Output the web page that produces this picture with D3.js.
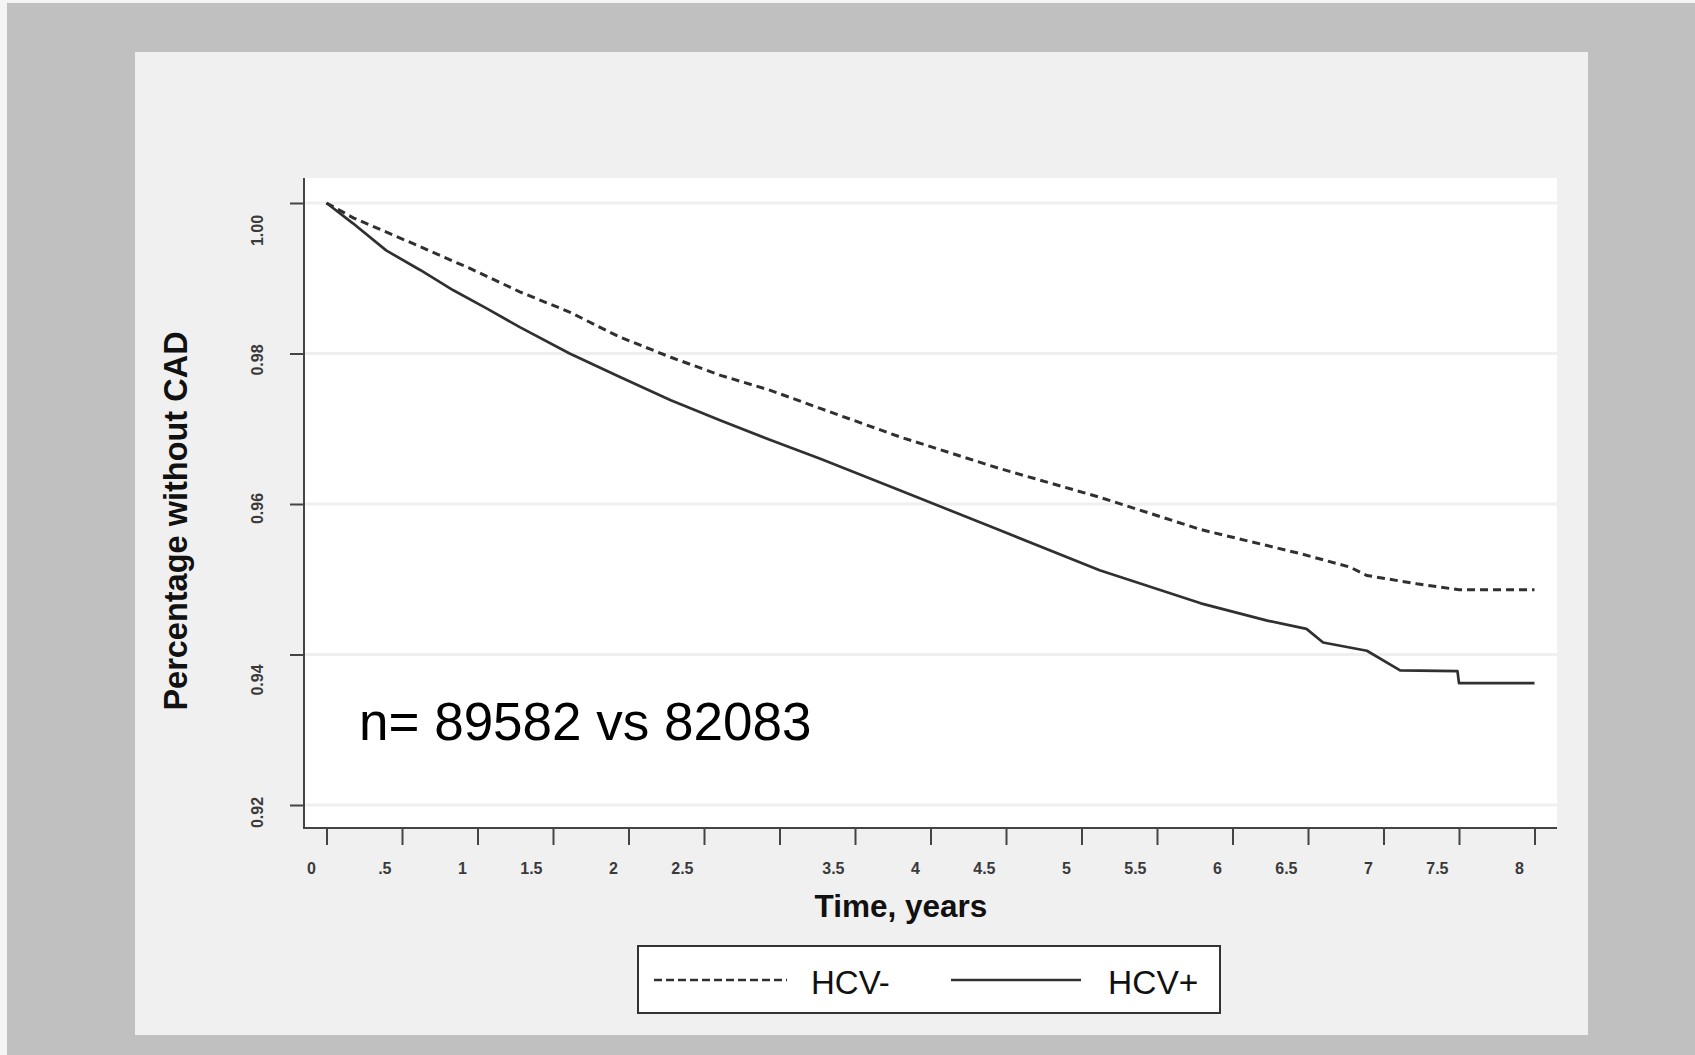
<!DOCTYPE html>
<html>
<head>
<meta charset="utf-8">
<script src="https://cdn.jsdelivr.net/npm/d3@7"></script>
<style>
  html, body { margin: 0; padding: 0; background: #c0c0c0; }
  svg { display: block; }
  text { font-family: "Liberation Sans", Arial, Helvetica, sans-serif; }
</style>
</head>
<body>
<svg id="chart" width="1695" height="1055"></svg>
<script>
// ---- Data ----
const timesNeg = [0, 0.18, 0.62, 0.95, 1.28, 1.61, 1.94, 2.28, 2.61, 2.94, 3.27, 3.80, 4.46, 5.12, 5.79, 6.45, 6.78, 6.89, 7.22, 7.50, 8.00];
const survNeg  = [1.000, 0.9980, 0.9942, 0.9913, 0.9882, 0.9855, 0.9822, 0.9795, 0.9771, 0.9751, 0.9727, 0.9689, 0.9647, 0.9609, 0.9566, 0.9534, 0.9516, 0.9505, 0.9494, 0.9486, 0.9486];

const timesPos = [0, 0.175, 0.395, 0.62, 0.84, 1.06, 1.28, 1.61, 1.94, 2.28, 2.61, 2.94, 3.27, 3.80, 4.46, 5.12, 5.79, 6.23, 6.49, 6.60, 6.89, 7.11, 7.49, 7.50, 8.00];
const survPos  = [1.000, 0.9973, 0.9937, 0.9911, 0.9884, 0.9860, 0.9835, 0.9800, 0.9769, 0.9738, 0.9711, 0.9685, 0.9660, 0.9618, 0.9565, 0.9512, 0.9468, 0.9445, 0.9434, 0.9416, 0.9405, 0.9379, 0.9378, 0.9362, 0.9362];

const xTicks      = [0, 0.5, 1, 1.5, 2, 2.5, 3, 3.5, 4, 4.5, 5, 5.5, 6, 6.5, 7, 7.5, 8];
const xTickLabels = ["0", ".5", "1", "1.5", "2", "2.5", "", "3.5", "4", "4.5", "5", "5.5", "6", "6.5", "7", "7.5", "8"];
const yTicks      = [1.00, 0.98, 0.96, 0.94, 0.92];
const yTickLabels = ["1.00", "0.98", "0.96", "0.94", "0.92"];
const seriesNames = ["HCV-", "HCV+"];
const annotation  = "n= 89582 vs 82083";

// ---- Layout ----
const svg = d3.select("#chart");
const W = 1695, H = 1055;
const plot = { left: 305, right: 1557, top: 178, bottom: 828 };
const yLabelNudge = [27, 6, 4, 25, 7];
const lineColor = "#303030";

svg.append("rect").attr("x", 0).attr("y", 0).attr("width", W).attr("height", H).attr("fill", "#c0c0c0");
svg.append("rect").attr("x", 0).attr("y", 0).attr("width", 7).attr("height", H).attr("fill", "#f4f4f4");
svg.append("rect").attr("x", 0).attr("y", 0).attr("width", W).attr("height", 3).attr("fill", "#f4f4f4");
svg.append("rect").attr("x", 135).attr("y", 52).attr("width", 1588 - 135).attr("height", 1035 - 52).attr("fill", "#f0f0f0");
svg.append("rect").attr("x", plot.left).attr("y", plot.top)
  .attr("width", plot.right - plot.left).attr("height", plot.bottom - plot.top).attr("fill", "#ffffff");

const x = d3.scaleLinear().domain([0, 8]).range([326.5, 1534.5]);
const y = d3.scaleLinear().domain([0.92, 1.00]).range([805, 203]);

// gridlines
svg.append("g").selectAll("line").data(yTicks).join("line")
  .attr("x1", plot.left).attr("x2", plot.right)
  .attr("y1", d => y(d)).attr("y2", d => y(d))
  .attr("stroke", "#efefef").attr("stroke-width", 3);

// x axis
const xAxis = d3.axisBottom(x).tickValues(xTicks).tickSize(17).tickSizeOuter(0)
  .tickFormat((d, i) => xTickLabels[i]);
const gx = svg.append("g").attr("transform", `translate(0,${plot.bottom})`).call(xAxis);
gx.select(".domain").remove();
gx.selectAll(".tick line").attr("stroke", "#444").attr("stroke-width", 2);
gx.selectAll(".tick text")
  .attr("text-anchor", "end").attr("x", -11).attr("y", 40).attr("dy", "0.35em")
  .attr("fill", "#3a3a3a").style("font-size", "16px").style("font-weight", "bold")
  .style("font-family", "'Liberation Sans', Arial, sans-serif");

// y axis
const yAxis = d3.axisLeft(y).tickValues(yTicks).tickSize(14).tickSizeOuter(0)
  .tickFormat((d, i) => yTickLabels[i]);
const gy = svg.append("g").attr("transform", `translate(${plot.left - 1},0)`).call(yAxis);
gy.select(".domain").remove();
gy.selectAll(".tick line").attr("stroke", "#444").attr("stroke-width", 2);
gy.selectAll(".tick text")
  .attr("x", null).attr("dy", null)
  .attr("text-anchor", "middle")
  .attr("transform", (d, i) => `translate(-47,${yLabelNudge[i]}) rotate(-90)`)
  .attr("dy", "0.35em")
  .attr("fill", "#3a3a3a").style("font-size", "16px").style("font-weight", "bold")
  .style("font-family", "'Liberation Sans', Arial, sans-serif");

// axis lines
svg.append("line").attr("x1", plot.left - 1).attr("x2", plot.left - 1)
  .attr("y1", plot.top).attr("y2", plot.bottom + 1)
  .attr("stroke", "#444").attr("stroke-width", 2);
svg.append("line").attr("x1", plot.left - 2).attr("x2", plot.right)
  .attr("y1", plot.bottom).attr("y2", plot.bottom)
  .attr("stroke", "#444").attr("stroke-width", 2);

// curves
const line = d3.line().x(d => x(d[0])).y(d => y(d[1])).curve(d3.curveLinear);
const negData = timesNeg.map((t, i) => [t, survNeg[i]]);
const posData = timesPos.map((t, i) => [t, survPos[i]]);

svg.append("path").datum(negData).attr("d", line)
  .attr("fill", "none").attr("stroke", lineColor).attr("stroke-width", 3)
  .attr("stroke-dasharray", "8,5");
svg.append("path").datum(posData).attr("d", line)
  .attr("fill", "none").attr("stroke", lineColor).attr("stroke-width", 2.7)
  .attr("stroke-linejoin", "round");

// annotation
svg.append("text").attr("x", 359).attr("y", 740)
  .attr("fill", "#000").style("font-size", "53px").text(annotation);

// axis titles
svg.append("text").attr("x", 901).attr("y", 917).attr("text-anchor", "middle")
  .attr("fill", "#111").style("font-size", "31.5px").style("font-weight", "bold")
  .text("Time, years");
svg.append("text").attr("transform", "translate(187,521) rotate(-90)")
  .attr("text-anchor", "middle")
  .attr("fill", "#111").style("font-size", "32.5px").style("font-weight", "bold")
  .text("Percentage without CAD");

// legend
const lg = svg.append("g");
lg.append("rect").attr("x", 638).attr("y", 946).attr("width", 1220 - 638).attr("height", 1013 - 946)
  .attr("fill", "#fff").attr("stroke", "#333").attr("stroke-width", 2);
lg.append("line").attr("x1", 654).attr("x2", 787).attr("y1", 980).attr("y2", 980)
  .attr("stroke", lineColor).attr("stroke-width", 2.5).attr("stroke-dasharray", "8,4");
lg.append("text").attr("x", 811).attr("y", 994).attr("fill", "#111")
  .style("font-size", "33px").text(seriesNames[0]);
lg.append("line").attr("x1", 951).attr("x2", 1081).attr("y1", 980).attr("y2", 980)
  .attr("stroke", lineColor).attr("stroke-width", 2.5);
lg.append("text").attr("x", 1108).attr("y", 994).attr("fill", "#111")
  .style("font-size", "33.5px").text(seriesNames[1]);
</script>
</body>
</html>
